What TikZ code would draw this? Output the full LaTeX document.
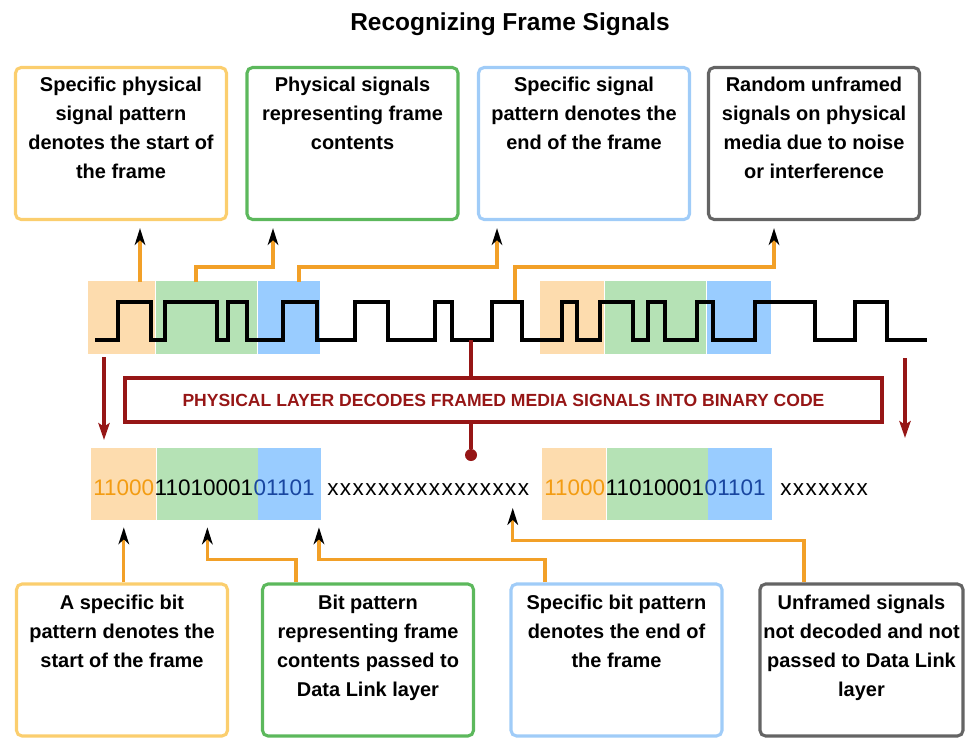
\documentclass[tikz,border=0pt]{standalone}
\usepackage{fontspec}
\setmainfont{Liberation Sans}
\usetikzlibrary{arrows.meta,positioning,calc}
\definecolor{bandpeach}{RGB}{253,220,174}
\definecolor{bandgreen}{RGB}{181,226,181}
\definecolor{bandblue}{RGB}{153,204,255}
\definecolor{bitorange}{RGB}{243,156,18}
\definecolor{bitblue}{RGB}{25,70,160}
\definecolor{edgeyellow}{RGB}{251,206,110}
\definecolor{edgegreen}{RGB}{92,184,92}
\definecolor{edgeblue}{RGB}{160,204,248}
\definecolor{edgegray}{RGB}{100,100,100}
\definecolor{feedorange}{RGB}{242,160,40}
\definecolor{decodered}{RGB}{150,22,22}
\tikzset{
    infobox/.style={draw=#1, line width=2.2pt, rounded corners=4pt, minimum width=5.275cm, minimum height=3.8cm, inner sep=0pt},
    boxtext/.style={font=\fontsize{14.2}{20.6}\selectfont\bfseries, align=center, inner sep=0pt},
    band/.style={fill=#1, minimum height=1.8cm, inner sep=0pt, anchor=west},
    bits/.style={font=\fontsize{16}{19}\selectfont, inner sep=0pt, anchor=base west},
    wave/.style={line width=2.8pt, black},
    feed/.style={-{Stealth[length=12pt, width=7.5pt, inset=3.5pt, black]}, line width=2.3pt, feedorange, shorten >=5pt},
    decode/.style={-{Stealth[length=12pt, width=8pt, inset=2.5pt]}, line width=2.4pt, decodered},
    banner/.style={draw=decodered, line width=3pt, minimum width=18.925cm, minimum height=1.1cm, text=decodered, font=\fontsize{12.5}{15}\selectfont\bfseries}
}
\begin{document}
\begin{tikzpicture}[x=0.025cm, y=-0.025cm]
    \useasboundingbox (0,0) rectangle (965,738);

    \node[font=\fontsize{17.4}{20}\selectfont\bfseries, anchor=base] (title) at (510,30) {Recognizing Frame Signals};

    \node[infobox=edgeyellow] (startsig) at (121,143.5) {};
    \node[infobox=edgegreen] (contsig) at (352.5,143.5) {};
    \node[infobox=edgeblue] (endsig) at (584,143.5) {};
    \node[infobox=edgegray] (noisesig) at (814,143.5) {};
    \node[boxtext, below=7.5pt of startsig.north] (startsigtxt) {Specific physical\\signal pattern\\denotes the start of\\the frame};
    \node[boxtext, below=7.5pt of contsig.north] (contsigtxt) {Physical signals\\representing frame\\contents};
    \node[boxtext, below=7.5pt of endsig.north] (endsigtxt) {Specific signal\\pattern denotes the\\end of the frame};
    \node[boxtext, below=7.5pt of noisesig.north] (noisesigtxt) {Random unframed\\signals on physical\\media due to noise\\or interference};

    \node[infobox=edgeyellow] (startbit) at (122,660) {};
    \node[infobox=edgegreen] (contbit) at (368,660) {};
    \node[infobox=edgeblue] (endbit) at (616.5,660) {};
    \node[infobox=edgegray, minimum width=5.075cm] (noisebit) at (861.5,660) {};
    \node[boxtext, below=8.5pt of startbit.north] (startbittxt) {A specific bit\\pattern denotes the\\start of the frame};
    \node[boxtext, below=8.5pt of contbit.north] (contbittxt) {Bit pattern\\representing frame\\contents passed to\\Data Link layer};
    \node[boxtext, below=8.5pt of endbit.north] (endbittxt) {Specific bit pattern\\denotes the end of\\the frame};
    \node[boxtext, below=8.5pt of noisebit.north] (noisebittxt) {Unframed signals\\not decoded and not\\passed to Data Link\\layer};

    \node[band=bandpeach, minimum width=1.675cm] (wavestart) at (88,317.5) {};
    \node[band=bandgreen, minimum width=2.54cm, right=0pt of wavestart] (wavecont) {};
    \node[band=bandblue, minimum width=1.55cm, right=0pt of wavecont] (waveend) {};
    \node[band=bandpeach, minimum width=1.6cm] (wavestart2) at (540,317.5) {};
    \node[band=bandgreen, minimum width=2.54cm, right=0pt of wavestart2] (wavecont2) {};
    \node[band=bandblue, minimum width=1.6cm, right=0pt of wavecont2] (waveend2) {};

    \draw[wave] (95,340) foreach \up/\dn in {118/151,165/217,228/247,283/317,355/388,435/452,492/522,562/577,600/633,648/665,697/713,755/815,855/887} { -- (\up,340) -- (\up,302) -- (\dn,302) -- (\dn,340) } -- (927,340);

    \node[band=bandpeach, minimum width=1.625cm] (bitstart) at (91,484) {};
    \node[band=bandgreen, minimum width=2.525cm, right=0pt of bitstart] (bitcont) {};
    \node[band=bandblue, minimum width=1.575cm, right=0pt of bitcont] (bitend) {};
    \node[band=bandpeach, minimum width=1.6cm] (bitstart2) at (542,484) {};
    \node[band=bandgreen, minimum width=2.525cm, right=0pt of bitstart2] (bitcont2) {};
    \node[band=bandblue, minimum width=1.6cm, right=0pt of bitcont2] (bitend2) {};

    \node[bits, text=bitorange] (flag1) at (93,495) {11000};
    \node[bits, base right=0pt of flag1] (data1) {11010001};
    \node[bits, text=bitblue, base right=0pt of data1] (tail1) {01101};
    \node[bits, font=\fontsize{16}{19}\selectfont\addfontfeatures{LetterSpace=6.5}] (noise1) at (327,495) {xxxxxxxxxxxxxxxx};
    \node[bits, text=bitorange] (flag2) at (544,495) {11000};
    \node[bits, base right=0pt of flag2] (data2) {11010001};
    \node[bits, text=bitblue, base right=0pt of data2] (tail2) {01101};
    \node[bits, font=\fontsize{16}{19}\selectfont\addfontfeatures{LetterSpace=6.5}] (noise2) at (780,495) {xxxxxxx};

    \node[banner] (decoder) at (503.5,400) {PHYSICAL LAYER DECODES FRAMED MEDIA SIGNALS INTO BINARY CODE};
    \coordinate (tap) at (471,340);
    \node[circle, fill=decodered, minimum size=0.3cm, inner sep=0pt] (sink) at (471,455) {};
    \draw[decodered, line width=2.6pt] (tap) -- (tap |- decoder.north);
    \draw[decodered, line width=2.6pt] (tap |- decoder.south) -- (sink);
    \coordinate (dropl) at (104,357);
    \coordinate (landl) at (104,440);
    \coordinate (dropr) at (905,358);
    \coordinate (landr) at (905,438);
    \draw[decode] (dropl) -- (landl);
    \draw[decode] (dropr) -- (landr);

    \coordinate (w1) at (140,282);
    \coordinate (w2) at (196,282);
    \coordinate (w3) at (299,282);
    \coordinate (w4) at (515,300);
    \draw[feed] (w1) -- (w1 |- startsig.south);
    \draw[feed] (w2) -- ++(0,-15) -| ($(contsig.south)+(-79.5,0)$);
    \draw[feed] (w3) -- ++(0,-15) -| ($(endsig.south)+(-87,0)$);
    \draw[feed] (w4) -- ++(0,-33) -| ($(noisesig.south)+(-40,0)$);

    \draw[feed] (bitstart.south |- startbit.north) -- (bitstart.south);
    \draw[feed] ($(contbit.north)+(-72,0)$) -- ++(0,-23) -| (bitcont.south);
    \draw[feed] ($(endbit.north)+(-71.5,0)$) -- ++(0,-23) -| ($(bitend.south)+(29,0)$);
    \draw[feed, shorten >=9pt] ($(noisebit.north)+(-57.5,0)$) -- ++(0,-42) -| ($(noise1.south)+(84.5,0)$);
\end{tikzpicture}
\end{document}
